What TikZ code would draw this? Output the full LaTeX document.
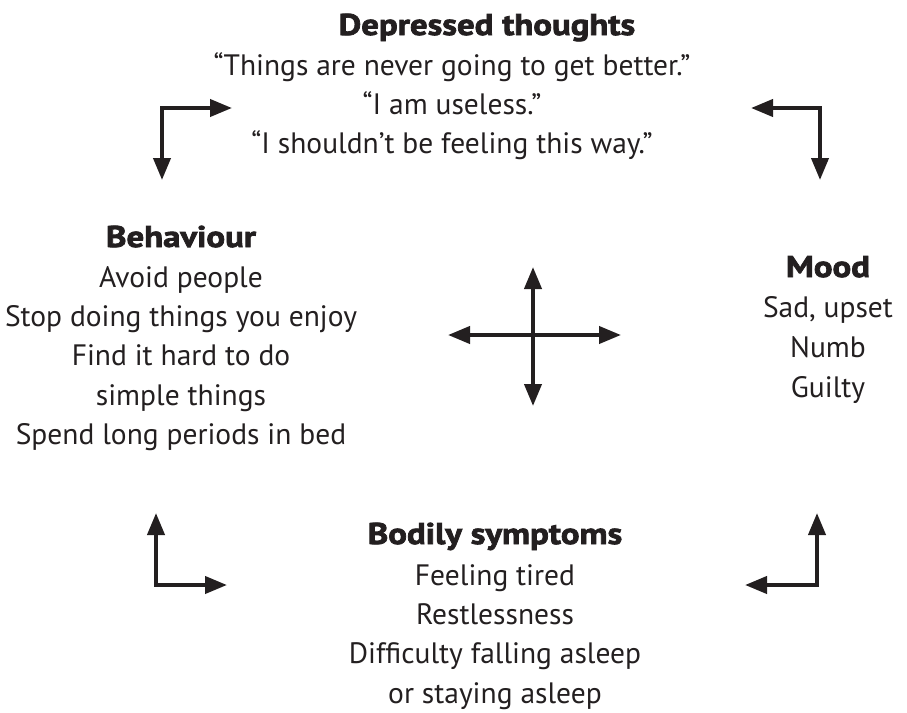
\documentclass[tikz,border=0pt]{standalone}
\usepackage{fontspec}
\setmainfont{PT Sans}
\newfontfamily\heavyfont[FakeBold=2.5,FakeStretch=1.16]{PT Sans Bold}
\usetikzlibrary{arrows.meta}
\definecolor{ink}{HTML}{231F20}
\tikzset{
  ln/.style={anchor=base, inner sep=0pt, text=ink, font=\fontsize{29.5}{34}\selectfont},
  hd/.style={anchor=base, inner sep=0pt, text=ink, font=\fontsize{30}{34}\heavyfont},
  arr/.style={draw=ink, line width=4pt, line join=miter, {Triangle[length=22pt,width=17pt]}-{Triangle[length=22pt,width=17pt]}}
}
\begin{document}
\begin{tikzpicture}[x=1pt,y=-1pt]
\useasboundingbox (0,0) rectangle (907,712);
% Depressed thoughts
\node[hd] (dt) at (487,35) {Depressed thoughts};
\node[ln] (dt1) at (452,75) {“Things are never going to get better.”};
\node[ln] (dt2) at (452,114) {“I am useless.”};
\node[ln] (dt3) at (452,153) {“I shouldn’t be feeling this way.”};
% Behaviour
\node[hd] (bh) at (181,247) {Behaviour};
\node[ln] (bh1) at (181,287) {Avoid people};
\node[ln] (bh2) at (181,326) {Stop doing things you enjoy};
\node[ln] (bh3) at (181,365) {Find it hard to do};
\node[ln] (bh4) at (181,405) {simple things};
\node[ln] (bh5) at (181,444) {Spend long periods in bed};
% Mood
\node[hd] (md) at (828,277) {Mood};
\node[ln] (md1) at (828,317) {Sad, upset};
\node[ln] (md2) at (828,357) {Numb};
\node[ln] (md3) at (828,397) {Guilty};
% Bodily symptoms
\node[hd] (bs) at (495,544) {Bodily symptoms};
\node[ln] (bs1) at (495,585) {Feeling tired};
\node[ln] (bs2) at (495,624) {Restlessness};
\node[ln] (bs3) at (495,663) {Difficulty falling asleep};
\node[ln] (bs4) at (495,703) {or staying asleep};
% corner arrows
\coordinate (tla) at (232,108); \coordinate (tlc) at (162,108); \coordinate (tlb) at (162,180);
\coordinate (tra) at (751,108); \coordinate (trc) at (820,108); \coordinate (trb) at (820,180);
\coordinate (bla) at (156,513); \coordinate (blc) at (156,585); \coordinate (blb) at (227,585);
\coordinate (bra) at (817,513); \coordinate (brc) at (817,585); \coordinate (brb) at (745,585);
\draw[arr] (tla) -- (tlc) -- (tlb);
\draw[arr] (tra) -- (trc) -- (trb);
\draw[arr] (bla) -- (blc) -- (blb);
\draw[arr] (bra) -- (brc) -- (brb);
% central cross
\coordinate (cl) at (448,335); \coordinate (cr) at (621,335);
\coordinate (ct) at (533,267); \coordinate (cb) at (533,406);
\draw[arr] (cl) -- (cr);
\draw[arr] (ct) -- (cb);
\end{tikzpicture}
\end{document}
